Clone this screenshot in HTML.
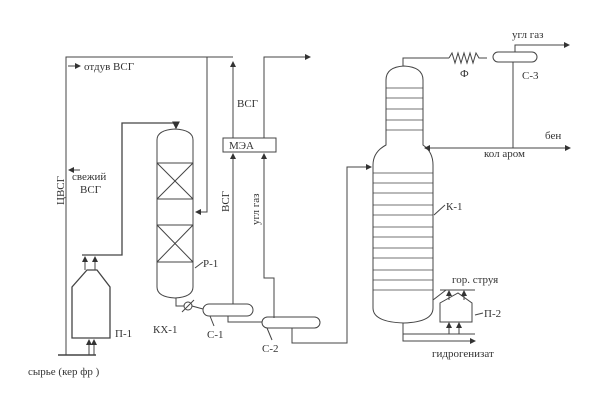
<!DOCTYPE html>
<html><head><meta charset="utf-8"><style>
body{margin:0;background:#fff}
svg{display:block}
text{font-family:"Liberation Serif",serif;font-size:11px;fill:#333}
</style></head><body>
<svg width="605" height="400" viewBox="0 0 605 400" xmlns="http://www.w3.org/2000/svg">
<defs><marker id="a" markerWidth="6" markerHeight="6" refX="5" refY="3" orient="auto"><path d="M0,0 L6,3 L0,6 z" fill="#333"/></marker></defs>
<g fill="none" stroke="#444" stroke-width="1">
<!-- left recycle -->
<polyline points="66,355 66,57 233,57"/>
<line x1="58" y1="355" x2="96" y2="355" stroke-width="1.5"/>
<line x1="68" y1="66" x2="80" y2="66" marker-end="url(#a)"/>
<line x1="80" y1="170" x2="69" y2="170" marker-end="url(#a)"/>
<!-- furnace P-1 -->
<path d="M72,338 L72,287 L87,270 L97,270 L110,287 L110,338 Z" stroke-width="1.3"/>
<line x1="89" y1="355" x2="89" y2="340" marker-end="url(#a)"/>
<line x1="94" y1="355" x2="94" y2="340" marker-end="url(#a)"/>
<line x1="85" y1="270" x2="85" y2="257" marker-end="url(#a)"/>
<line x1="95" y1="270" x2="95" y2="257" marker-end="url(#a)"/>
<polyline points="82,255 122,255 122,123 176,123 176,128" stroke-width="1.3" marker-end="url(#a)"/>
<!-- reactor -->
<path d="M157,140 Q157,130 175,129 Q193,130 193,140 L193,287 Q193,297 175,298 Q157,297 157,287 Z"/>
<rect x="157" y="163" width="36" height="36"/><line x1="157" y1="163" x2="193" y2="199"/><line x1="193" y1="163" x2="157" y2="199"/>
<rect x="157" y="225" width="36" height="37"/><line x1="157" y1="225" x2="193" y2="262"/><line x1="193" y1="225" x2="157" y2="262"/>
<polyline points="207,57 207,212 196,212" marker-end="url(#a)"/>
<line x1="203" y1="262" x2="195" y2="268"/>
<polyline points="176,298 176,306 184,306"/>
<circle cx="188" cy="306" r="4"/>
<line x1="182" y1="312" x2="194" y2="300"/>
<line x1="192" y1="306" x2="203" y2="309"/>
<!-- C-1 -->
<rect x="203" y="304" width="50" height="12" rx="6"/>
<line x1="210" y1="316" x2="214" y2="326"/>
<line x1="233" y1="304" x2="233" y2="154" marker-end="url(#a)"/>
<line x1="233" y1="138" x2="233" y2="62" marker-end="url(#a)"/>
<polyline points="228,316 228,322 262,322"/>
<!-- MEA -->
<rect x="223" y="138" width="53" height="14"/>
<polyline points="264,138 264,57 310,57" marker-end="url(#a)"/>
<polyline points="274,318 274,278 264,278 264,154" marker-end="url(#a)"/>
<!-- C-2 -->
<rect x="262" y="317" width="58" height="11" rx="5.5"/>
<line x1="267" y1="328" x2="272" y2="340"/>
<polyline points="292,328 292,343 347,343 347,167 371,167" marker-end="url(#a)"/>
<!-- column K-1 -->
<path d="M386,80 Q386,67 404,66 Q423,67 423,80 L423,145 Q433,152 433,165 L433,308 Q433,322 404,323 Q373,322 373,308 L373,165 Q373,152 386,145 Z"/>
<g stroke-width="0.8">
<line x1="386" y1="88" x2="423" y2="88"/><line x1="386" y1="98" x2="423" y2="98"/><line x1="386" y1="109" x2="423" y2="109"/><line x1="386" y1="120" x2="423" y2="120"/><line x1="386" y1="130" x2="423" y2="130"/>
<line x1="373" y1="173" x2="433" y2="173"/><line x1="373" y1="183" x2="433" y2="183"/><line x1="373" y1="193" x2="433" y2="193"/><line x1="373" y1="205" x2="433" y2="205"/><line x1="373" y1="215" x2="433" y2="215"/><line x1="373" y1="227" x2="433" y2="227"/><line x1="373" y1="237" x2="433" y2="237"/><line x1="373" y1="248" x2="433" y2="248"/><line x1="373" y1="258" x2="433" y2="258"/><line x1="373" y1="270" x2="433" y2="270"/><line x1="373" y1="280" x2="433" y2="280"/><line x1="373" y1="290" x2="433" y2="290"/>
</g>
<line x1="445" y1="205" x2="434" y2="215"/>
<polyline points="403,66 403,58 449,58"/>
<path d="M449,58 l3,-5 l3,10 l3,-10 l3,10 l3,-10 l3,10 l3,-10 l3,10 l3,-10 l3,5 l8,0"/>
<rect x="493" y="52" width="44" height="10" rx="5"/>
<polyline points="515,52 515,45 569,45" marker-end="url(#a)"/>
<line x1="513" y1="62" x2="513" y2="148"/>
<line x1="569" y1="148" x2="425" y2="148" marker-end="url(#a)"/>
<line x1="513" y1="148" x2="570" y2="148" marker-end="url(#a)"/>
<!-- P-2 -->
<path d="M440,322 L440,303 L458,293 L472,303 L472,322 Z"/>
<line x1="433" y1="300" x2="446" y2="290"/>
<line x1="440" y1="290" x2="475" y2="290"/>
<line x1="449" y1="300" x2="449" y2="291" marker-end="url(#a)"/>
<line x1="464" y1="300" x2="464" y2="291" marker-end="url(#a)"/>
<line x1="449" y1="334" x2="449" y2="323" marker-end="url(#a)"/>
<line x1="459" y1="334" x2="459" y2="323" marker-end="url(#a)"/>
<line x1="475" y1="315" x2="483" y2="313"/>
<polyline points="403,323 403,341 475,341" marker-end="url(#a)"/>
<line x1="403" y1="334" x2="475" y2="334"/>
</g>
<text x="84" y="70">отдув ВСГ</text>
<text x="72" y="180">свежий</text>
<text x="80" y="193">ВСГ</text>
<text transform="translate(64,205) rotate(-90)">ЦВСГ</text>
<text x="115" y="337">П-1</text>
<text x="28" y="375">сырье (кер фр )</text>
<text x="203" y="267">Р-1</text>
<text x="153" y="333">КХ-1</text>
<text x="207" y="338">С-1</text>
<text x="262" y="352">С-2</text>
<text x="237" y="107">ВСГ</text>
<text x="229" y="149">МЭА</text>
<text transform="translate(229,212) rotate(-90)">ВСГ</text>
<text transform="translate(259,225) rotate(-90)">угл газ</text>
<text x="460" y="77">Ф</text>
<text x="522" y="79">С-3</text>
<text x="512" y="38">угл газ</text>
<text x="545" y="139">бен</text>
<text x="484" y="157">кол аром</text>
<text x="446" y="210">К-1</text>
<text x="452" y="283">гор. струя</text>
<text x="484" y="317">П-2</text>
<text x="432" y="357">гидрогенизат</text>
</svg>
</body></html>
